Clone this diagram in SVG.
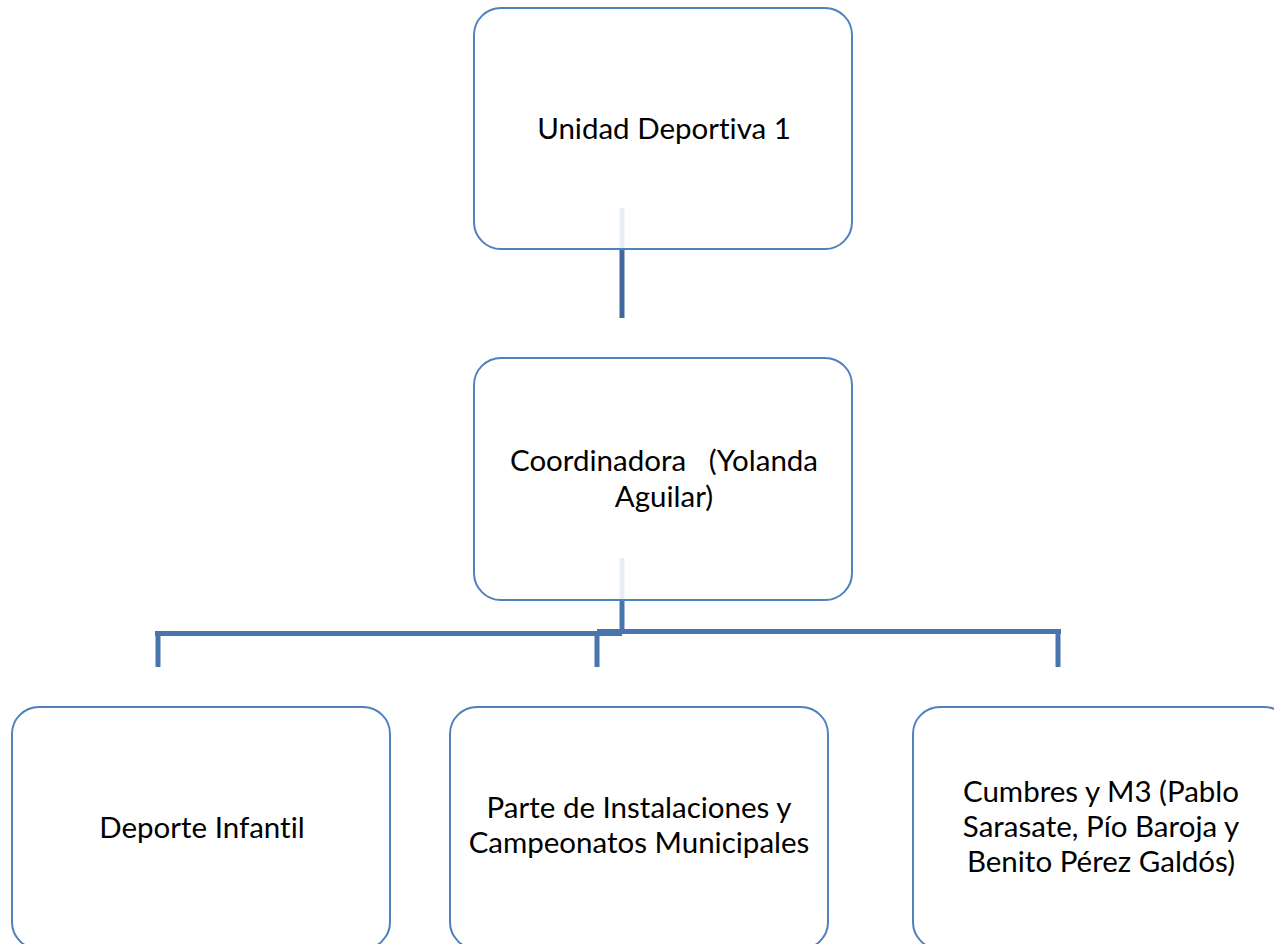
<svg xmlns="http://www.w3.org/2000/svg" width="1274" height="944" viewBox="0 0 1274 944">
<style>
.box{fill:#ffffff;stroke:#4f81bd;stroke-width:2}
.lbl{font-family:"Lato","Liberation Sans",sans-serif;font-size:29.5px;fill:#000000;text-anchor:middle;font-variant-ligatures:none;font-feature-settings:"liga" 0}
.faint{stroke:#e8ecf4;stroke-width:5;fill:none}
.dark{stroke:#41689c;stroke-width:5;fill:none}
.bar{stroke:#4875ad;stroke-width:5;fill:none}
</style>
<rect width="1274" height="944" fill="#ffffff"/>
<g id="n1">
<rect class="box" x="474" y="8" width="378" height="241" rx="27" ry="27"/>
<text class="lbl" x="664" y="139">Unidad Deportiva 1</text>
</g>
<g id="n2">
<rect class="box" x="474" y="358" width="378" height="242" rx="27" ry="27"/>
<text class="lbl" x="664" y="471" xml:space="preserve">Coordinadora   (Yolanda</text>
<text class="lbl" x="664" y="507">Aguilar)</text>
</g>
<g id="n3">
<rect class="box" x="12" y="707" width="378" height="242" rx="27" ry="27"/>
<text class="lbl" x="202" y="838">Deporte Infantil</text>
</g>
<g id="n4">
<rect class="box" x="450" y="707" width="378" height="242" rx="27" ry="27"/>
<text class="lbl" x="639" y="818">Parte de Instalaciones y</text>
<text class="lbl" x="639" y="853">Campeonatos Municipales</text>
</g>
<g id="n5">
<rect class="box" x="913" y="707" width="378" height="242" rx="27" ry="27"/>
<text class="lbl" x="1101" y="802">Cumbres y M3 (Pablo</text>
<text class="lbl" x="1101" y="837">Sarasate, Pío Baroja y</text>
<text class="lbl" x="1101" y="872">Benito Pérez Galdós)</text>
</g>
<g id="connectors">
<line class="faint" x1="622" y1="208" x2="622" y2="248"/>
<line class="dark" x1="622" y1="250" x2="622" y2="318"/>
<line class="faint" x1="622" y1="558" x2="622" y2="599"/>
<line class="bar" x1="622" y1="601" x2="622" y2="632"/>
<line class="bar" x1="155" y1="633.5" x2="622" y2="633.5"/>
<line class="bar" x1="597" y1="631.5" x2="1061" y2="631.5"/>
<line class="bar" x1="158" y1="633" x2="158" y2="667"/>
<line class="bar" x1="597" y1="633" x2="597" y2="667"/>
<line class="bar" x1="1058" y1="631" x2="1058" y2="667"/>
</g>
</svg>
